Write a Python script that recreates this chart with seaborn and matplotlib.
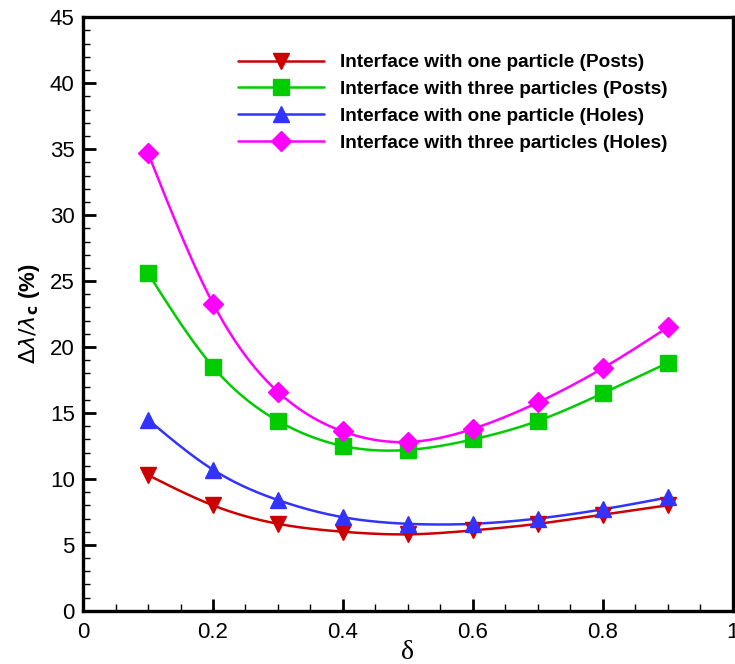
import numpy as np
import pandas as pd
import matplotlib
matplotlib.use("Agg")
import matplotlib.pyplot as plt
from matplotlib.lines import Line2D
from matplotlib.ticker import MultipleLocator
import seaborn as sns

delta = [0.1, 0.2, 0.3, 0.4, 0.5, 0.6, 0.7, 0.8, 0.9]
one_posts = [10.3, 8.0, 6.6, 6.0, 5.8, 6.1, 6.6, 7.3, 8.0]
three_posts = [25.6, 18.5, 14.4, 12.5, 12.2, 13.0, 14.4, 16.5, 18.8]
one_holes = [14.5, 10.7, 8.4, 7.1, 6.6, 6.6, 7.0, 7.7, 8.6]
three_holes = [34.7, 23.3, 16.6, 13.6, 12.8, 13.8, 15.8, 18.4, 21.5]

labels = ["Interface with one particle (Posts)",
          "Interface with three particles (Posts)",
          "Interface with one particle (Holes)",
          "Interface with three particles (Holes)"]
series = [one_posts, three_posts, one_holes, three_holes]
colors = ["#CC0000", "#00CC00", "#3333FF", "#FF00FF"]
markers = ["v", "s", "^", "D"]
msizes = [12, 11, 12, 10]


def natural_spline(x, y, n=200):
    x = np.asarray(x, float); y = np.asarray(y, float)
    m = len(x); h = np.diff(x)
    A = np.zeros((m, m)); b = np.zeros(m)
    A[0, 0] = A[-1, -1] = 1
    for i in range(1, m - 1):
        A[i, i - 1] = h[i - 1]; A[i, i] = 2 * (h[i - 1] + h[i]); A[i, i + 1] = h[i]
        b[i] = 3 * ((y[i + 1] - y[i]) / h[i] - (y[i] - y[i - 1]) / h[i - 1])
    c = np.linalg.solve(A, b)
    xs = np.linspace(x[0], x[-1], n); ys = np.empty_like(xs)
    for k, xv in enumerate(xs):
        i = min(np.searchsorted(x, xv, side="right") - 1, m - 2)
        dx = xv - x[i]
        bb = (y[i + 1] - y[i]) / h[i] - h[i] * (c[i + 1] + 2 * c[i]) / 3
        d = (c[i + 1] - c[i]) / (3 * h[i])
        ys[k] = y[i] + bb * dx + c[i] * dx ** 2 + d * dx ** 3
    return xs, ys


sns.set_theme(style="white")
plt.rcParams["font.family"] = ["Liberation Sans", "DejaVu Sans"]
plt.rcParams["text.color"] = "black"
plt.rcParams["axes.labelcolor"] = "black"
plt.rcParams["xtick.color"] = "black"
plt.rcParams["ytick.color"] = "black"

fig = plt.figure(figsize=(7.35, 6.64), dpi=100)
ax = fig.add_axes([0.113, 0.080, 0.884, 0.894])

for lab, ys, col, mk, ms in zip(labels, series, colors, markers, msizes):
    xs_s, ys_s = natural_spline(delta, ys)
    sns.lineplot(x=xs_s, y=ys_s, ax=ax, color=col, linewidth=1.8, legend=False)
    ax.plot(delta, ys, linestyle="none", marker=mk, markersize=ms, color=col,
            markeredgecolor=col, zorder=5)

ax.set_xlim(0, 1)
ax.set_ylim(0, 45)
ax.xaxis.set_major_locator(MultipleLocator(0.2))
ax.xaxis.set_minor_locator(MultipleLocator(0.05))
ax.yaxis.set_major_locator(MultipleLocator(5))
ax.yaxis.set_minor_locator(MultipleLocator(1))
ax.set_xticks([0, 0.2, 0.4, 0.6, 0.8, 1.0])
ax.set_xticklabels(["0", "0.2", "0.4", "0.6", "0.8", "1"])
ax.tick_params(axis="both", which="major", direction="in", length=9, width=2,
               labelsize=16, colors="black")
ax.tick_params(axis="x", which="major", pad=8)
ax.tick_params(axis="y", which="major", pad=6)
ax.tick_params(axis="both", which="minor", direction="in", length=5, width=1,
               colors="black")
ax.tick_params(top=False, right=False, which="both")
ax.tick_params(left=True, bottom=True, which="both")
for s in ax.spines.values():
    s.set_linewidth(2.4)
    s.set_color("black")

ax.set_xlabel("δ", fontsize=20, family=["Liberation Serif", "DejaVu Serif"], labelpad=-2)
ax.set_ylabel(r"$\Delta\lambda/\lambda_{\mathbf{c}}$ (%)", fontsize=16, fontweight="bold", labelpad=6)

handles = [Line2D([0], [0], color=c, marker=m, markersize=ms, linewidth=1.8)
           for c, m, ms in zip(colors, markers, msizes)]
leg = ax.legend(handles, labels, loc="upper left", bbox_to_anchor=(0.212, 0.967),
                frameon=False, handlelength=4.5, handletextpad=0.85,
                labelspacing=0.5, prop={"weight": "bold", "size": 13.7})
for t in leg.get_texts():
    t.set_color("black")

fig.savefig("out.png", dpi=100)
